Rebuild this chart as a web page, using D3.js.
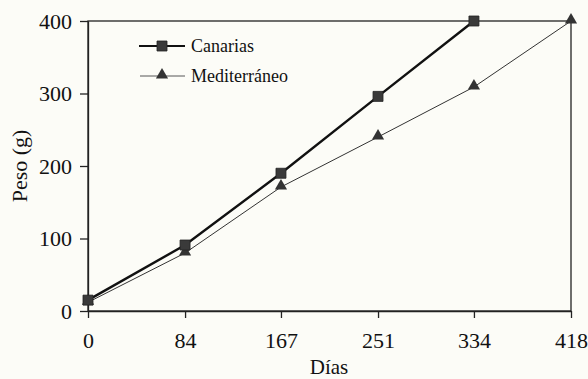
<!DOCTYPE html>
<html><head><meta charset="utf-8">
<script src="https://cdn.jsdelivr.net/npm/d3@7"></script>
<style>body{margin:0;background:#fcfcf7}svg{display:block}</style>
</head><body><svg id="c" width="588" height="379"></svg>
<script>
const days = [0, 84, 167, 251, 334, 418];
const xTicks = [0, 84, 167, 251, 334, 418];
const yTicks = [0, 100, 200, 300, 400];
const canarias = [15, 91, 190, 296, 400];
const mediterraneo = [12, 80, 171, 240, 309, 400];
const seriesNames = ["Canarias", "Mediterráneo"];

const svg = d3.select("#c");
const m = {l: 88, r: 17, t: 21, b: 68};
const W = 588, H = 379;
const x = d3.scaleLinear().domain([0, 418]).range([m.l, W - m.r]);
const y = d3.scaleLinear().domain([0, 400]).range([H - m.b, m.t]);
const font = "'Liberation Serif','Times New Roman',serif";
const ink = "#222";

svg.append("rect").attr("x", x(0)).attr("y", y(400)).attr("width", x(418) - x(0)).attr("height", y(0) - y(400))
  .attr("fill", "none").attr("stroke", ink).attr("stroke-width", 1.3);

const xa = svg.append("g").attr("transform", `translate(0,${y(0)})`)
  .call(d3.axisBottom(x).tickValues(xTicks).tickSize(7).tickSizeOuter(0).tickPadding(14));
const ya = svg.append("g").attr("transform", `translate(${x(0)},0)`)
  .call(d3.axisLeft(y).tickValues(yTicks).tickSize(8).tickSizeOuter(0).tickPadding(8));
[xa, ya].forEach(a => {
  a.attr("font-family", font).attr("font-size", 22);
  a.select(".domain").attr("stroke", ink).attr("stroke-width", 1.3);
  a.selectAll("line").attr("stroke", ink).attr("stroke-width", 1.3);
  a.selectAll("text").style("font-family", font).style("font-size", "22px").attr("fill", "#111");
});

svg.append("text").attr("x", 329).attr("y", 374).attr("text-anchor", "middle")
  .style("font-family", font).style("font-size", "21px").attr("fill", "#111").text("Días");
svg.append("text").attr("transform", `translate(27,${(y(0)+y(400))/2}) rotate(-90)`).attr("text-anchor", "middle")
  .style("font-family", font).style("font-size", "22px").attr("fill", "#111").text("Peso (g)");

const line = d3.line().x(d => x(d[0])).y(d => y(d[1]));
const cData = canarias.map((v, i) => [days[i], v]);
const mData = mediterraneo.map((v, i) => [days[i], v]);

svg.append("path").datum(mData).attr("d", line).attr("fill", "none").attr("stroke", "#333").attr("stroke-width", 1);
svg.append("path").datum(cData).attr("d", line).attr("fill", "none").attr("stroke", "#111").attr("stroke-width", 2.4);

const tri = d3.symbol().type(d3.symbolTriangle).size(64);
const sq = d3.symbol().type(d3.symbolSquare).size(100);
svg.selectAll(".tm").data(mData).join("path").attr("d", tri)
  .attr("transform", d => `translate(${x(d[0])},${y(d[1]) - 1})`).attr("fill", "#333");
svg.selectAll(".sm").data(cData).join("path").attr("d", sq)
  .attr("transform", d => `translate(${x(d[0])},${y(d[1])})`).attr("fill", "#3a3a3a").attr("stroke", "#222").attr("stroke-width", 0.8);

const lg = svg.append("g");
lg.append("line").attr("x1", 139).attr("x2", 185).attr("y1", 46).attr("y2", 46).attr("stroke", "#111").attr("stroke-width", 2);
lg.append("path").attr("d", sq).attr("transform", "translate(162,46)").attr("fill", "#3a3a3a").attr("stroke", "#222").attr("stroke-width", 0.8);
lg.append("text").attr("x", 191).attr("y", 52).style("font-family", font).style("font-size", "18px").attr("fill", "#111").text(seriesNames[0]);
lg.append("line").attr("x1", 140).attr("x2", 185).attr("y1", 76).attr("y2", 76).attr("stroke", "#444").attr("stroke-width", 0.9);
lg.append("path").attr("d", tri).attr("transform", "translate(162,75)").attr("fill", "#333");
lg.append("text").attr("x", 191).attr("y", 82).style("font-family", font).style("font-size", "18px").attr("fill", "#111").text(seriesNames[1]);
</script></body></html>
